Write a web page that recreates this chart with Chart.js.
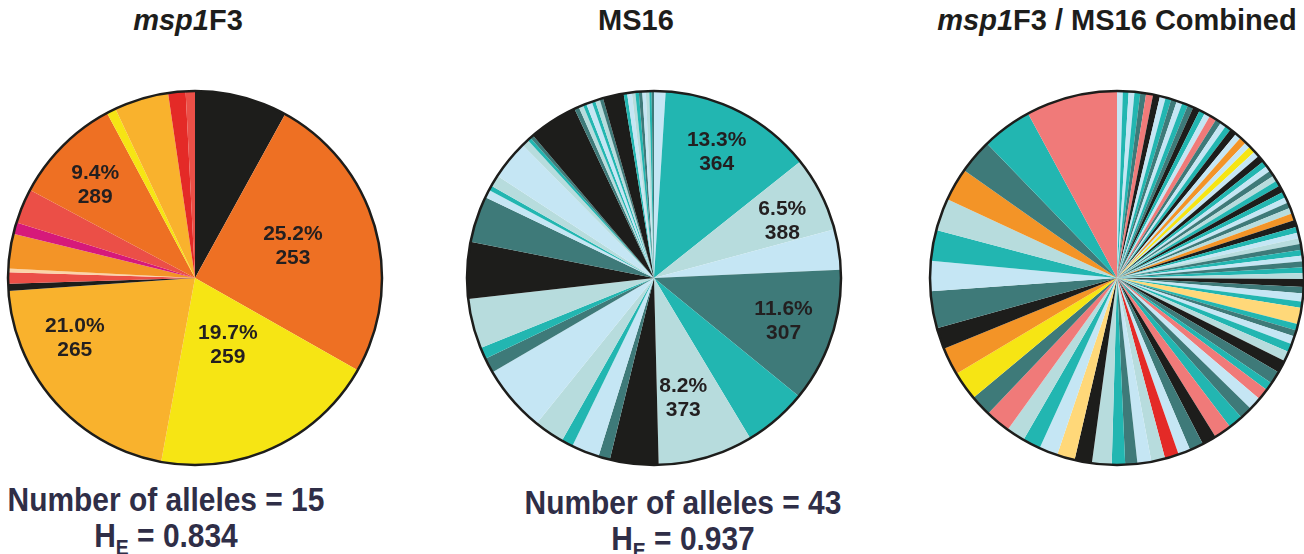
<!DOCTYPE html>
<html>
<head>
<meta charset="utf-8">
<title>Allele frequency pies</title>
<script src="https://cdn.jsdelivr.net/npm/chart.js@4/dist/chart.umd.min.js"></script>
<style>
    body {
        margin: 0;
        width: 1304px;
        height: 554px;
        background: #fff;
        position: relative;
        overflow: hidden;
        font-family: "Liberation Sans", Arial, sans-serif;
    }
    .pie { position: absolute; width: 380px; height: 380px; top: 88px; }
    .title {
        position: absolute;
        top: 4px;
        width: 500px;
        text-align: center;
        font-weight: bold;
        font-size: 29px;
        color: #1d1d1b;
        white-space: nowrap;
    }
    .foot {
        position: absolute;
        width: 500px;
        text-align: center;
        font-weight: bold;
        font-size: 34px;
        line-height: 36px;
        color: #2f2e47;
        white-space: nowrap;
        transform: scaleX(0.88);
    }
    .foot sub { font-size: 22px; vertical-align: -8px; line-height: 0; }
</style>
</head>
<body>

<div class="title" style="left:-62px"><i>msp1</i>F3</div>
<div class="title" style="left:386px">MS16</div>
<div class="title" style="left:867px"><i>msp1</i>F3 / MS16 Combined</div>

<div class="pie" style="left:5px"><canvas id="pieMsp1" width="380" height="380"></canvas></div>
<div class="pie" style="left:464px"><canvas id="pieMs16" width="380" height="380"></canvas></div>
<div class="pie" style="left:927px"><canvas id="pieCombined" width="380" height="380"></canvas></div>

<div class="foot" style="left:-84px; top:481px">Number of alleles = 15<br>H<sub>E</sub> = 0.834</div>
<div class="foot" style="left:433px; top:484px">Number of alleles = 43<br>H<sub>E</sub> = 0.937</div>

<script>
// Colours used in the figure
const BLACK = '#1d1d1b';
const ORANGE = '#ee7023';
const YELLOW = '#f6e514';
const LT_ORANGE = '#f9b22d';
const CORAL = '#eb4f47';
const PEACH = '#fbd4a8';
const ORANGE2 = '#f39427';
const MAGENTA = '#d6197a';
const RED = '#e42a27';
const TEAL = '#22b6b1';
const LT_GRAY = '#b7dcdd';
const LT_BLUE = '#c5e6f4';
const DK_TEAL = '#3e7a79';
const SALMON = '#f07a79';
const LT_YELLOW = '#ffd879';

// msp1F3 - allele frequencies (%), clockwise from 12 o'clock
const msp1Values = [8.0, 25.2, 19.7, 21.0, 0.6, 1.0, 0.3, 3.0, 1.0, 3.0, 9.4, 0.8, 4.7, 1.5, 0.8];
const msp1Colors = [BLACK, ORANGE, YELLOW, LT_ORANGE, BLACK, CORAL, PEACH, ORANGE2, MAGENTA, CORAL,
    ORANGE, YELLOW, LT_ORANGE, RED, CORAL];
const msp1LabelIndex = [1, 2, 3, 10];
const msp1LabelPct = ['25.2%', '19.7%', '21.0%', '9.4%'];
const msp1LabelAllele = ['253', '259', '265', '289'];

// MS16 - allele frequencies (%)
const ms16Values = [1.0, 13.3, 6.5, 3.5, 11.6, 5.5, 8.2,
    4.2, 1.0, 2.4, 1.0, 2.6, 5.8, 1.3, 1.0, 4.3, 4.9, 4.0, 0.7, 0.4, 1.0, 3.4, 0.6, 0.3, 0.3, 4.2,
    0.4, 0.4, 0.3, 0.5, 0.3, 0.4, 0.3, 1.8,
    0.3, 0.4, 0.3, 0.3, 0.3, 0.3, 0.3, 0.2, 0.2];
const ms16Colors = [LT_BLUE, TEAL, LT_GRAY, LT_BLUE, DK_TEAL, TEAL, LT_GRAY,
    BLACK, DK_TEAL, LT_BLUE, TEAL, LT_GRAY, LT_BLUE, DK_TEAL, TEAL, LT_GRAY, BLACK, DK_TEAL, LT_BLUE,
    TEAL, LT_GRAY, LT_BLUE, LT_GRAY, TEAL, DK_TEAL, BLACK,
    DK_TEAL, LT_GRAY, TEAL, LT_BLUE, TEAL, LT_GRAY, DK_TEAL, BLACK,
    TEAL, LT_BLUE, LT_GRAY, TEAL, DK_TEAL, LT_BLUE, LT_GRAY, TEAL, DK_TEAL];
const ms16LabelIndex = [1, 2, 4, 6];
const ms16LabelPct = ['13.3%', '6.5%', '11.6%', '8.2%'];
const ms16LabelAllele = ['364', '388', '307', '373'];

// Combined haplotypes - frequencies (%)
const combinedValues = [
    // upper right quarter
    0.5, 0.5, 0.5, 0.5, 0.5, 0.6, 0.6, 0.5, 0.5, 0.5, 0.5, 0.5, 0.5, 0.6, 0.5, 0.5,
    0.6, 0.5, 0.5, 0.5, 0.6, 0.5, 0.6, 0.5, 0.6, 0.5, 0.6, 0.5, 0.5, 0.5, 0.5, 0.5,
    0.6, 0.5, 0.5, 0.5, 0.5, 0.6, 0.6, 0.5, 0.5, 0.5, 0.5, 0.5, 0.5, 0.5, 0.5, 0.5,
    0.7,
    // lower right quarter
    0.55, 0.7, 0.55, 1.4, 0.55, 0.55, 0.7, 0.7, 0.85, 1.1, 1.1, 0.7, 1.0, 1.1, 1.1, 1.25,
    1.5, 1.25, 1.2, 1.05, 1.2, 1.2, 1.2, 1.05, 1.15,
    // left half
    1.7, 1.5, 1.55, 1.6, 1.55, 1.6, 2.15, 1.85, 2.5, 2.4, 1.85, 3.2, 2.6, 2.65, 2.8, 2.85,
    3.0, 4.35, 7.9
];
const combinedColors = [
    LT_BLUE, TEAL, LT_BLUE, TEAL, DK_TEAL, SALMON, BLACK, LT_BLUE, TEAL, DK_TEAL, LT_BLUE, TEAL,
    DK_TEAL, BLACK, TEAL, LT_BLUE, SALMON, DK_TEAL, LT_BLUE, TEAL, BLACK, LT_BLUE, ORANGE2, LT_BLUE,
    YELLOW, LT_BLUE, BLACK, TEAL, LT_BLUE, DK_TEAL, LT_GRAY, TEAL, BLACK, TEAL, LT_BLUE, DK_TEAL,
    LT_GRAY, ORANGE2, BLACK, TEAL, LT_BLUE, LT_GRAY, DK_TEAL, TEAL, LT_BLUE, DK_TEAL, TEAL, LT_GRAY,
    BLACK,
    DK_TEAL, LT_BLUE, TEAL, LT_YELLOW, TEAL, DK_TEAL, LT_BLUE, TEAL, LT_GRAY, BLACK, DK_TEAL, TEAL,
    SALMON, LT_BLUE, DK_TEAL, TEAL, SALMON, BLACK, DK_TEAL, LT_BLUE, RED, LT_GRAY, LT_BLUE, DK_TEAL,
    TEAL,
    LT_GRAY, BLACK, LT_YELLOW, LT_BLUE, TEAL, LT_GRAY, SALMON, DK_TEAL, YELLOW, ORANGE2, BLACK,
    DK_TEAL, LT_BLUE, TEAL, LT_GRAY, ORANGE2, DK_TEAL, TEAL, SALMON
];

// Draws the two-line labels inside slices and the outer black ring
const pieDecor = {
    id: 'pieDecor',
    afterDatasetsDraw(chart, args, opts) {
        const ctx = chart.ctx;
        const arcs = chart.getDatasetMeta(0).data;
        ctx.save();
        ctx.font = 'bold 21px "Liberation Sans", Arial, sans-serif';
        ctx.fillStyle = '#231f20';
        ctx.textAlign = 'center';
        ctx.textBaseline = 'middle';
        (opts.index || []).forEach((idx, i) => {
            const arc = arcs[idx];
            const place = opts.place[i];
            const mid = (arc.startAngle + arc.endAngle) / 2 + place[1] * Math.PI / 180;
            const r = arc.outerRadius * place[0];
            const x = arc.x + Math.cos(mid) * r;
            const y = arc.y + Math.sin(mid) * r;
            ctx.fillText(opts.pct[i], x, y - 12);
            ctx.fillText(opts.allele[i], x, y + 12);
        });
        const a = arcs[0];
        ctx.beginPath();
        ctx.arc(a.x, a.y, a.outerRadius, 0, Math.PI * 2);
        ctx.lineWidth = 2.5;
        ctx.strokeStyle = BLACK;
        ctx.stroke();
        ctx.restore();
    }
};

function makePie(id, values, colors, labels) {
    const ctx = document.getElementById(id).getContext('2d');
    return new Chart(ctx, {
        type: 'pie',
        data: {
            labels: values.map((v, i) => 'allele ' + (i + 1)),
            datasets: [{
                data: values,
                backgroundColor: colors,
                borderWidth: 0
            }]
        },
        options: {
            responsive: false,
            animation: false,
            layout: { padding: 3 },
            plugins: {
                legend: { display: false },
                tooltip: { enabled: false },
                pieDecor: labels
            }
        },
        plugins: [pieDecor]
    });
}

makePie('pieMsp1', msp1Values, msp1Colors, {
    index: msp1LabelIndex, pct: msp1LabelPct, allele: msp1LabelAllele,
    place: [[0.55, -2], [0.40, -1], [0.72, 15], [0.73, -2]]
});
makePie('pieMs16', ms16Values, ms16Colors, {
    index: ms16LabelIndex, pct: ms16LabelPct, allele: ms16LabelAllele,
    place: [[0.75, -1], [0.75, 3], [0.73, 0], [0.66, 2.5]]
});
makePie('pieCombined', combinedValues, combinedColors, {});
</script>
</body>
</html>
